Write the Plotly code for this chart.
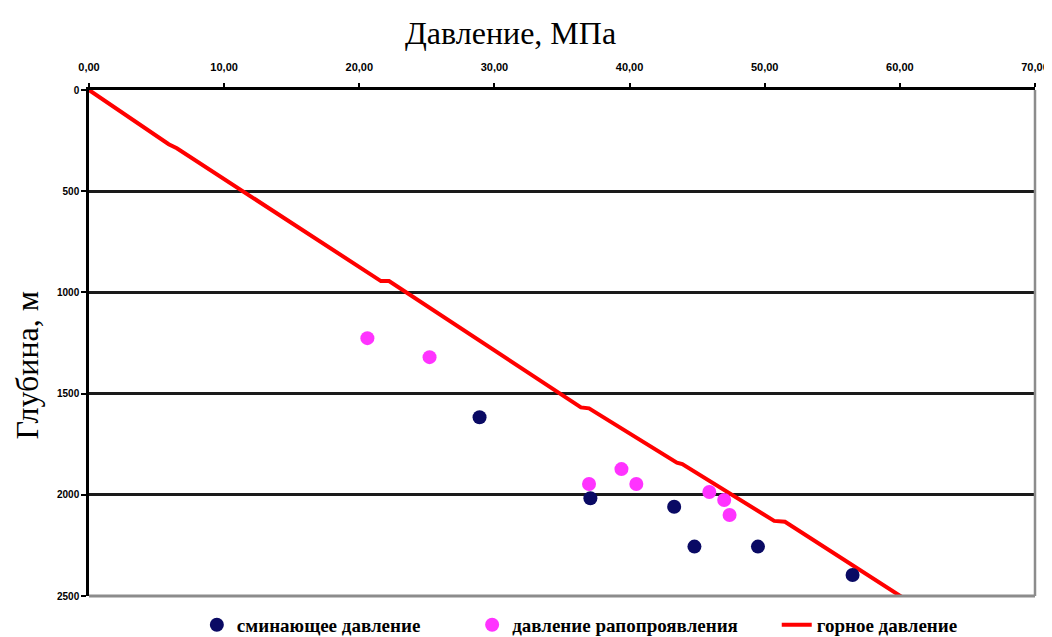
import plotly.graph_objects as go

# Data
rock_p = [0.0, 5.9, 6.5, 21.6, 22.2, 36.4, 37.0, 43.5, 43.9, 50.7, 51.5, 60.5]
rock_d = [0, 268, 288, 944, 944, 1568, 1573, 1841, 1848, 2129, 2133, 2520]

collapse_p = [28.9, 37.1, 43.3, 44.8, 49.5, 56.5]
collapse_d = [1617, 2017, 2059, 2256, 2256, 2396]

brine_p = [20.6, 25.2, 37.0, 39.4, 40.5, 45.9, 47.0, 47.4]
brine_d = [1226, 1320, 1947, 1873, 1947, 1986, 2026, 2100]

x_ticks = [0, 10, 20, 30, 40, 50, 60, 70]
x_ticktext = ["0,00", "10,00", "20,00", "30,00", "40,00", "50,00", "60,00", "70,00"]
y_ticks = [0, 500, 1000, 1500, 2000, 2500]

names = ["сминающее давление", "давление рапопроявления", "горное давление"]

SERIF = "Liberation Serif"

W, H = 1044, 629  # page body has an 8px margin
fig = go.Figure()
fig.add_trace(go.Scatter(x=rock_p, y=rock_d, mode="lines", name=names[2],
                         line=dict(color="#FF0000", width=4), legend="legend3"))
fig.add_trace(go.Scatter(x=collapse_p, y=collapse_d, mode="markers", name=names[0],
                         marker=dict(color="#0A0A64", size=14), legend="legend"))
fig.add_trace(go.Scatter(x=brine_p, y=brine_d, mode="markers", name=names[1],
                         marker=dict(color="#FF33FF", size=14), legend="legend2"))

legfont = dict(family=SERIF, size=19, color="black", weight="bold")
legcommon = dict(orientation="h", yanchor="middle", y=-0.057, xanchor="left",
                 font=legfont, bgcolor="rgba(0,0,0,0)")

fig.update_layout(
    width=W, height=H,
    font=dict(family=SERIF, color="black"),
    margin=dict(l=81, r=17, t=82, b=41, autoexpand=False),
    paper_bgcolor="white", plot_bgcolor="white",
    xaxis=dict(side="top", range=[0, 70], tickvals=x_ticks, ticktext=x_ticktext,
               showline=True, linecolor="black", linewidth=3, automargin=False,
               ticks="outside", ticklen=4, tickcolor="black", tickwidth=1.5,
               ticklabelstandoff=8,
               showgrid=False, zeroline=False,
               tickfont=dict(family="Liberation Sans Narrow, Liberation Sans", size=11,
                             color="black", weight="bold")),
    yaxis=dict(range=[2500, 0], tickvals=y_ticks, automargin=False,
               showline=True, linecolor="black", linewidth=2.5,
               ticks="outside", ticklen=5, tickcolor="black", tickwidth=1.5,
               showgrid=True, gridcolor="#1a1a1a", gridwidth=3, zeroline=False,
               tickfont=dict(family="Liberation Sans", size=10, color="black", weight="bold")),
    legend=dict(x=0.114, **legcommon),
    legend2=dict(x=0.405, **legcommon),
    legend3=dict(x=0.727, **legcommon),
    showlegend=True,
    annotations=[
        dict(text="Давление, МПа", xref="paper", yref="paper",
             x=(510 - 89) / 946, y=1 + (90 - 33) / 506,
             showarrow=False, xanchor="center", yanchor="middle",
             font=dict(family=SERIF, size=32, color="black")),
        dict(text="Глубина, м", xref="paper", yref="paper",
             x=-0.066, y=1 - (365 - 90) / 506, textangle=-90,
             showarrow=False, xanchor="center", yanchor="middle",
             font=dict(family=SERIF, size=32, color="black")),
    ],
    shapes=[
        dict(type="line", xref="paper", yref="paper", x0=0, x1=1, y0=0, y1=0,
             line=dict(color="#8c8c8c", width=3), layer="above"),
        dict(type="line", xref="paper", yref="paper", x0=1, x1=1, y0=0, y1=1,
             line=dict(color="#8c8c8c", width=2.5), layer="above"),
    ],
)

fig.write_html("out.html")
